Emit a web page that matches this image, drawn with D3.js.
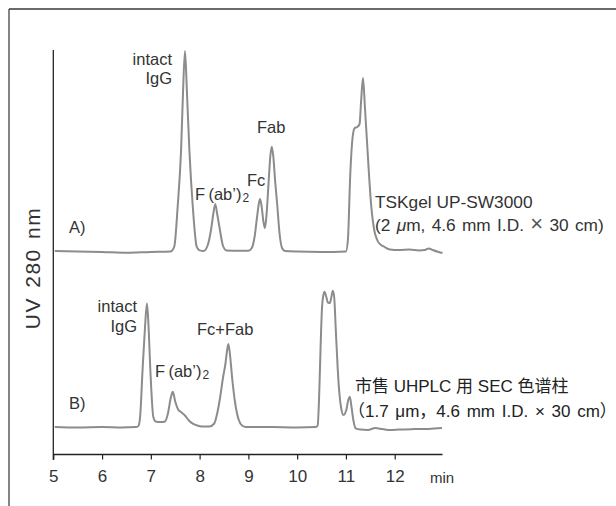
<!DOCTYPE html>
<html>
<head>
<meta charset="utf-8">
<script src="https://cdn.jsdelivr.net/npm/d3@7"></script>
<style>
  html, body { margin: 0; padding: 0; background: #fff; }
  svg { display: block; }
</style>
</head>
<body>
<div id="chart"></div>
<script>
// Retention time (min) / UV signal (arbitrary units)
const timeTicks = [5, 6, 7, 8, 9, 10, 11, 12];

const traceA = [
  [5.03, 0.5], [5.5, 0.2], [6.0, 0], [6.5, -0.4], [7.0, 0], [7.4, 0.2],
  [7.48, 2.7], [7.55, 22.7], [7.62, 51], [7.66, 80], [7.70, 100.5], [7.74, 80],
  [7.79, 51], [7.86, 22.7], [7.94, 2.7], [8.0, 0.8], [8.08, 0.5],
  [8.16, 3], [8.24, 12], [8.28, 19], [8.32, 24], [8.36, 19], [8.41, 12],
  [8.48, 3], [8.55, 0.8], [8.8, 0.6], [9.0, 0.6],
  [9.07, 2], [9.13, 8], [9.18, 18], [9.22, 25], [9.24, 26.5], [9.27, 23],
  [9.31, 15], [9.34, 12], [9.37, 18], [9.41, 33], [9.45, 48], [9.48, 52.6],
  [9.51, 48], [9.55, 35], [9.59, 24], [9.64, 9], [9.69, 2], [9.75, 0.5],
  [10.0, 0.2], [10.5, 0], [11.0, 0.3],
  [11.04, 6], [11.09, 39.5], [11.14, 58], [11.18, 62], [11.23, 62.5], [11.28, 64],
  [11.31, 75], [11.35, 87], [11.39, 72], [11.43, 56], [11.52, 22.7], [11.58, 11],
  [11.64, 6], [11.72, 3.5], [11.78, 2.7], [11.9, 1.3], [12.1, 1], [12.3, 1.2],
  [12.5, 0.8], [12.62, 1], [12.70, 1.8], [12.78, 1], [12.9, 0], [12.98, -0.5]
];

const traceB = [
  [5.03, 0.3], [5.5, 0], [6.0, 0.2], [6.4, 0], [6.70, 0.2],
  [6.75, 1], [6.78, 5.4], [6.83, 28.7], [6.88, 50], [6.92, 62], [6.95, 52],
  [6.99, 28.7], [7.05, 5.4], [7.10, 3], [7.20, 2.7], [7.29, 3],
  [7.35, 7], [7.41, 15], [7.45, 17.9], [7.50, 13], [7.56, 9], [7.63, 7.5],
  [7.70, 6], [7.78, 3.5], [7.87, 1.8], [7.95, 1], [8.05, 0.5], [8.20, 0.5],
  [8.30, 2], [8.36, 7], [8.42, 15], [8.48, 25], [8.53, 32], [8.56, 38],
  [8.59, 41.75], [8.62, 37], [8.67, 24], [8.73, 12], [8.80, 4], [8.87, 1],
  [8.95, 0.3], [9.5, 0.2], [10.0, 0], [10.38, 0.2],
  [10.42, 1], [10.45, 15], [10.48, 40], [10.51, 60], [10.54, 66.5], [10.56, 67.9],
  [10.59, 66], [10.63, 62.5], [10.67, 62.25], [10.70, 65], [10.73, 68.4],
  [10.76, 65], [10.79, 50], [10.83, 30], [10.87, 16], [10.90, 10], [10.95, 6.25],
  [11.01, 9], [11.05, 14], [11.08, 15.4], [11.11, 11], [11.15, 4], [11.20, -0.4],
  [11.3, -1], [11.45, -1.2], [11.6, -0.3], [11.75, -0.8], [11.9, -1.3],
  [12.1, -1], [12.4, -0.8], [12.7, -0.7], [12.97, -0.3]
];

const width = 616, height = 506;
const FONT = "'Liberation Sans', Arial, sans-serif";
const CJK = "'Liberation Sans', 'Noto Sans CJK SC', sans-serif";
const TRACE = "#8c8c8c";
const INK = "#333";

// vertical offsets of each chromatogram (signal units)
const offsetA = 101.5;
const offsetB = 13.75;

const svg = d3.select("#chart").append("svg")
  .attr("width", width)
  .attr("height", height);

const x = d3.scaleLinear().domain([5, 12.98]).range([53.3, 442.5]);
const y = d3.scaleLinear().domain([0, 200]).range([455, 55]);

// frame (top + left edge only)
svg.append("line").attr("x1", 9).attr("y1", 9).attr("x2", width).attr("y2", 9)
  .attr("stroke", "#6a6a6a").attr("stroke-width", 2);
svg.append("line").attr("x1", 9).attr("y1", 9).attr("x2", 9).attr("y2", height)
  .attr("stroke", "#333").attr("stroke-width", 1.2);

// traces
const line = d3.line().curve(d3.curveMonotoneX);
[[traceA, offsetA], [traceB, offsetB]].forEach(([data, off]) => {
  svg.append("path")
    .attr("d", line(data.map(d => [x(d[0]), y(d[1] + off)])))
    .attr("fill", "none")
    .attr("stroke", TRACE)
    .attr("stroke-width", 2)
    .attr("stroke-linejoin", "round");
});

// x axis
const xAxis = svg.append("g").attr("transform", `translate(0, ${y(0) - 0.5})`)
  .call(d3.axisBottom(x).tickValues(timeTicks).tickSize(5).tickPadding(10).tickFormat(d3.format("d")));
xAxis.select(".domain").attr("d", `M${x(5)},0H${x(12.98)}`).attr("stroke", "#222").attr("stroke-width", 1.3);
xAxis.selectAll(".tick line").attr("stroke", "#222").attr("stroke-width", 1.2);
xAxis.selectAll(".tick text").attr("font-family", FONT).attr("font-size", 17).attr("fill", INK);

svg.append("text").attr("x", 442).attr("y", 483).text("min")
  .attr("text-anchor", "middle").attr("font-family", FONT).attr("font-size", 15).attr("fill", INK);

// y axis (plain line)
svg.append("line").attr("x1", x(5)).attr("y1", 50).attr("x2", x(5)).attr("y2", y(0) + 5)
  .attr("stroke", "#222").attr("stroke-width", 1.3);

svg.append("text")
  .attr("transform", "translate(40, 268) rotate(-90)")
  .attr("text-anchor", "middle")
  .attr("font-family", FONT).attr("font-size", 21).attr("fill", INK)
  .attr("letter-spacing", 1.5).attr("word-spacing", 2)
  .text("UV 280 nm");

// annotations
function label(txt, px, py, anchor, size, family) {
  return svg.append("text").attr("x", px).attr("y", py).text(txt)
    .attr("text-anchor", anchor || "start")
    .attr("font-family", family || FONT)
    .attr("font-size", size || 16.5)
    .attr("fill", INK);
}
function fab2(px, py) {
  const t = label("F\u2009(ab\u2019)", px, py);
  t.append("tspan").text("2").attr("font-size", 12).attr("dy", 2).attr("dx", 1);
}

// panel A
label("intact", 172, 65, "end");
label("IgG", 172, 84, "end");
fab2(195, 200);
label("Fc", 247, 186);
label("Fab", 257, 133);
label("A)", 69, 233);
label("TSKgel UP-SW3000", 375, 208, "start", 17.3);
const colA = label("(2 ", 375, 231, "start", 17.3).attr("word-spacing", 1.5);
colA.append("tspan").text("\u03bc").attr("font-style", "italic");
colA.append("tspan").text("m, 4.6 mm I.D. ");
colA.append("tspan").text("\u00d7").attr("font-size", 22).attr("fill", "#555");
colA.append("tspan").text(" 30 cm)");

// panel B
label("市售 UHPLC 用 SEC 色谱柱", 355, 392, "start", 17, CJK).attr("fill", "#222");
label("（1.7 μm，4.6 mm I.D. × 30 cm）", 348, 417, "start", 17, CJK).attr("fill", "#222")
  .attr("word-spacing", 2);
label("intact", 137, 312, "end");
label("IgG", 137, 332, "end");
fab2(155, 377);
label("Fc+Fab", 197, 335);
label("B)", 69, 409);
</script>
</body>
</html>
